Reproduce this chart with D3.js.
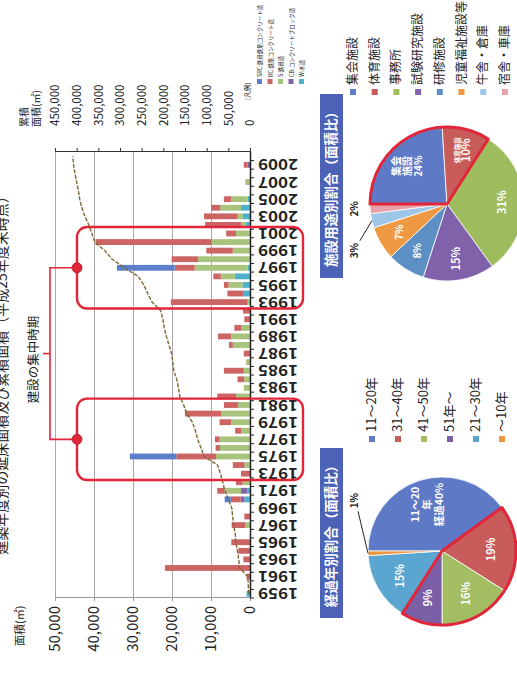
<!DOCTYPE html>
<html lang="ja">
<head>
<meta charset="utf-8">
<title>築年別延床面積</title>
<script src="https://cdn.jsdelivr.net/npm/d3@7/dist/d3.min.js"></script>
<style>
  body { margin: 0; background: #fff; }
  svg text { font-family: "Noto Sans CJK JP", "Noto Sans", sans-serif; fill: #222; }
</style>
</head>
<body>
<div id="chart"></div>
<script>
'use strict';

// ---- data ----
let years = [1959, 1960, 1961, 1962, 1963, 1964, 1965, 1966, 1967, 1968,
    1969, 1970, 1971, 1972, 1973, 1974, 1975, 1976, 1977, 1978,
    1979, 1980, 1981, 1982, 1983, 1984, 1985, 1986, 1987, 1988,
    1989, 1990, 1991, 1992, 1993, 1994, 1995, 1996, 1997, 1998,
    1999, 2000, 2001, 2002, 2003, 2004, 2005, 2006, 2007, 2008,
    2009, 2010];
let yearLabels = [1959, 1961, 1963, 1965, 1967, 1969, 1971, 1973, 1975, 1977,
    1979, 1981, 1983, 1985, 1987, 1989, 1991, 1993, 1995, 1997,
    1999, 2001, 2003, 2005, 2007, 2009];

// floor area by structure (m2)
let srcArea = [0, 0, 0, 0, 0, 0, 0, 0, 0, 0,
    0, 1600, 0, 0, 0, 0, 11900, 0, 0, 0,
    0, 0, 0, 0, 0, 0, 0, 0, 0, 0,
    0, 0, 0, 0, 0, 0, 0, 0, 14800, 0,
    0, 0, 0, 0, 0, 0, 0, 0, 0, 0,
    0, 0];
let rcArea = [0, 0, 900, 21800, 1700, 3000, 4800, 0, 3500, 1450,
    0, 2500, 1900, 1700, 2300, 3000, 10200, 1100, 1200, 1500,
    3000, 9300, 3600, 4800, 0, 1700, 5100, 0, 1600, 1000,
    3400, 1700, 1450, 1800, 19700, 4200, 1200, 1900, 5100, 6800,
    6800, 29700, 2500, 9200, 8600, 2400, 1900, 0, 0, 0,
    1000, 0];
let sArea = [0, 0, 0, 0, 0, 0, 0, 0, 1200, 0,
    0, 0, 4200, 1900, 0, 1400, 8700, 7700, 7800, 2300,
    4800, 7400, 3100, 3600, 1600, 1500, 1600, 1000, 0, 4400,
    4800, 2300, 0, 0, 600, 0, 3600, 3600, 13600, 13300,
    4400, 9900, 3600, 1300, 1300, 5300, 4200, 0, 1200, 0,
    0, 0];
let cbArea = [0, 0, 0, 0, 0, 0, 0, 0, 0, 0,
    0, 1000, 1500, 0, 0, 0, 0, 0, 0, 0,
    0, 0, 0, 0, 0, 0, 0, 0, 0, 0,
    0, 0, 0, 0, 0, 0, 0, 0, 0, 0,
    0, 0, 0, 0, 0, 0, 0, 0, 0, 0,
    600, 0];
let wArea = [900, 0, 0, 0, 0, 0, 0, 0, 0, 0,
    0, 1400, 800, 0, 0, 0, 0, 0, 0, 0,
    0, 0, 0, 0, 0, 0, 0, 0, 0, 0,
    0, 0, 0, 0, 0, 1600, 1900, 3900, 600, 0,
    0, 0, 0, 1000, 1900, 2300, 600, 0, 0, 0,
    0, 0];
// cumulative floor area (m2), right axis
let cumArea = [3000, 4000, 5000, 24000, 26000, 29000, 33000, 34000, 38000, 40000,
    42000, 50000, 58000, 63000, 68000, 75000, 106000, 113000, 121000, 126000,
    133000, 146000, 153000, 162000, 165000, 169000, 176000, 178000, 181000, 187000,
    193000, 198000, 201000, 206000, 226000, 236000, 245000, 258000, 290000, 318000,
    335000, 358000, 365000, 372000, 381000, 388000, 393000, 396000, 400000, 404000,
    407000, 409000];

let areaTicks = [0, 10000, 20000, 30000, 40000, 50000];
let cumTicks = [0, 50000, 100000, 150000, 200000, 250000, 300000, 350000, 400000, 450000];

let structureKeys = ['w', 'cb', 's', 'rc', 'src']; // stacked from the axis outwards
let structureNames = ['SRC:鉄骨鉄筋コンクリート造', 'RC:鉄筋コンクリート造', 'S:鉄骨造',
    'CB:コンクリートブロック造', 'W:木造'];
let peakPeriods = [[1973, 1981], [1993, 2001]];

let useNames = ['集会施設', '体育施設', '事務所', '試験研究施設', '研修施設',
    '児童福祉施設等', '牛舎・倉庫', '宿舎・車庫'];
let useShares = [24, 10, 31, 15, 8, 7, 3, 2];
let ageNames = ['11〜20年', '31〜40年', '41〜50年', '51年〜', '21〜30年', '〜10年'];
let ageShares = [40, 19, 16, 9, 15, 1];

// ---- styles ----
let structureColor = {src: '#5c7fcb', rc: '#cc6463', s: '#a8c37b', cb: '#8064a6', w: '#4db1cb'};
let structureOrder = ['src', 'rc', 's', 'cb', 'w'];
let useColors = ['#5e79c6', '#c75c5a', '#9fbc5f', '#7f62a9', '#5c8fc4', '#ef9942', '#9ec6e8', '#e7a1a9'];
let ageColors = ['#5e79c6', '#c75c5a', '#a3bd63', '#7b5fa6', '#5aa6d0', '#ef9540'];
let red = '#e2263a';

let width = 517, height = 690;

let svg = d3.select('#chart').append('svg')
    .attr('width', width)
    .attr('height', height);
svg.append('rect').attr('width', width).attr('height', height).attr('fill', '#fff');

// the page lies on its side: draw it upright on a 690 x 517 sheet and turn it
let page = svg.append('g')
    .attr('transform', 'translate(0,' + height + ') rotate(-90)');

let plot = {left: 92, right: 538, top: 55, bottom: 250};

let x = d3.scaleBand().domain(years).range([plot.left, plot.right])
    .paddingInner(0.32).paddingOuter(0.16);
let y = d3.scaleLinear().domain([0, 50000]).range([plot.bottom, plot.top]);
let y2 = d3.scaleLinear().domain([0, 450000]).range([plot.bottom, plot.top]);
let bw = x.bandwidth();

// title, cut by the edge of the scan
page.append('text')
    .attr('x', 318).attr('y', 7)
    .attr('text-anchor', 'middle')
    .attr('font-size', 14)
    .text('建築年度別の延床面積及び累積面積（平成25年度末時点）');

// grid
page.append('g')
    .attr('transform', 'translate(' + plot.left + ',0)')
    .call(d3.axisLeft(y).tickValues(areaTicks).tickSize(-(plot.right - plot.left)).tickFormat(''))
    .call(g => g.select('.domain').remove())
    .selectAll('line').attr('stroke', '#a9a9a9');

// left axis
page.append('g')
    .attr('transform', 'translate(' + plot.left + ',0)')
    .call(d3.axisLeft(y).tickValues(areaTicks).tickFormat(d3.format(',')).tickSize(3).tickSizeOuter(0).tickPadding(5))
    .call(g => g.select('.domain').attr('stroke', '#999'))
    .call(g => g.selectAll('.tick line').attr('stroke', '#999'))
    .call(g => g.selectAll('text').attr('font-size', 15).attr('fill', '#222'));

page.append('text')
    .attr('x', 44).attr('y', 24)
    .attr('font-size', 11)
    .text('面積(㎡)');

// right axis
page.append('g')
    .attr('transform', 'translate(' + plot.right + ',0)')
    .call(d3.axisRight(y2).tickValues(cumTicks).tickFormat(d3.format(',')).tickSize(4).tickSizeOuter(0).tickPadding(22))
    .call(g => g.select('.domain').attr('stroke', '#333'))
    .call(g => g.selectAll('.tick line').attr('stroke', '#333'))
    .call(g => g.selectAll('text').attr('font-size', 11.5).attr('fill', '#222'));

page.append('text')
    .attr('x', 563).attr('y', 28)
    .attr('font-size', 10)
    .text('累積');
page.append('text')
    .attr('x', 563).attr('y', 40)
    .attr('font-size', 10)
    .text('面積(㎡)');

// stacked bars
let rows = years.map(function(yr, i) {
    return {year: yr, src: srcArea[i], rc: rcArea[i], s: sArea[i], cb: cbArea[i], w: wArea[i]};
});
let series = d3.stack().keys(structureKeys)(rows);

page.append('g')
    .selectAll('g')
    .data(series)
    .join('g')
    .attr('fill', d => structureColor[d.key])
    .selectAll('rect')
    .data(d => d.filter(p => p[1] > p[0]))
    .join('rect')
    .attr('x', d => x(d.data.year))
    .attr('width', bw)
    .attr('y', d => y(d[1]))
    .attr('height', d => y(d[0]) - y(d[1]));

// cumulative line
let cumLine = d3.line()
    .x((d, i) => x(years[i]) + bw / 2)
    .y(d => y2(d));

page.append('path')
    .datum(cumArea)
    .attr('d', cumLine)
    .attr('fill', 'none')
    .attr('stroke', '#7e6836')
    .attr('stroke-width', 1.4)
    .attr('stroke-dasharray', '4,1.5');

// category axis
let xAxis = page.append('g')
    .attr('transform', 'translate(0,' + plot.bottom + ')')
    .call(d3.axisBottom(x).tickValues(yearLabels).tickSize(0).tickSizeOuter(0));
xAxis.select('.domain').attr('stroke', '#222').attr('stroke-width', 1.5);
xAxis.selectAll('text')
    .attr('transform', 'rotate(-90)')
    .attr('text-anchor', 'end')
    .attr('x', -8)
    .attr('y', 0)
    .attr('dy', '0.36em')
    .attr('font-size', 15)
    .attr('font-weight', 'bold')
    .attr('textLength', 40)
    .attr('lengthAdjust', 'spacingAndGlyphs')
    .attr('fill', '#222');

// ticks between categories
page.append('g')
    .selectAll('line')
    .data(years)
    .join('line')
    .attr('x1', d => x(d) - (x.step() - bw) / 2)
    .attr('x2', d => x(d) - (x.step() - bw) / 2)
    .attr('y1', plot.bottom)
    .attr('y2', plot.bottom + 4)
    .attr('stroke', '#222');

// legend of the bar chart
let barLegend = page.append('g');
barLegend.append('text')
    .attr('x', 590).attr('y', 250)
    .attr('font-size', 6.5)
    .text('[凡例]');
let legendItems = barLegend.selectAll('g.item')
    .data(structureOrder)
    .join('g')
    .attr('class', 'item')
    .attr('transform', (d, i) => 'translate(606,' + (260 + i * 10.5) + ')');
legendItems.append('rect')
    .attr('x', 0).attr('y', -3)
    .attr('width', 5).attr('height', 5)
    .attr('fill', d => structureColor[d]);
legendItems.append('text')
    .attr('x', 7).attr('y', 2)
    .attr('font-size', 5.5)
    .text((d, i) => structureNames[i]);

// periods of intensive construction
let periodBox = peakPeriods.map(function(p) {
    let u0 = x(p[0]) + bw / 2 - 0.75 * x.step();
    let u1 = x(p[1]) + bw / 2 + 0.75 * x.step();
    return {u0: u0, u1: u1, mid: (u0 + u1) / 2};
});

page.append('g')
    .selectAll('rect')
    .data(periodBox)
    .join('rect')
    .attr('x', d => d.u0)
    .attr('width', d => d.u1 - d.u0)
    .attr('y', 77)
    .attr('height', 226)
    .attr('rx', 10)
    .attr('fill', 'none')
    .attr('stroke', red)
    .attr('stroke-width', 2.4);

let bracket = page.append('g').attr('stroke', red).attr('stroke-width', 1.6).attr('fill', 'none');
bracket.append('path')
    .attr('d', 'M' + periodBox[0].mid + ',76V50H' + periodBox[1].mid + 'V76');
let bracketMid = (periodBox[0].mid + periodBox[1].mid) / 2;
bracket.append('line')
    .attr('x1', bracketMid).attr('x2', bracketMid)
    .attr('y1', 50).attr('y2', 43);
page.append('g')
    .selectAll('circle')
    .data(periodBox)
    .join('circle')
    .attr('cx', d => d.mid)
    .attr('cy', 77)
    .attr('r', 5)
    .attr('fill', red)
    .attr('stroke', '#a81424')
    .attr('stroke-width', 0.8);
page.append('text')
    .attr('x', bracketMid - 6).attr('y', 38)
    .attr('text-anchor', 'middle')
    .attr('font-size', 12.5)
    .text('建設の集中時期');

/**
 * Draw one pie with its title box and legend
 */
function drawPie(cfg) {
    let g = page.append('g')
        .attr('transform', 'translate(' + cfg.cx + ',' + cfg.cy + ')');

    let arcs = d3.pie().sort(null).value(d => d)(cfg.shares);
    let arc = d3.arc().innerRadius(0).outerRadius(cfg.r);

    g.selectAll('path.slice')
        .data(arcs)
        .join('path')
        .attr('class', 'slice')
        .attr('d', arc)
        .attr('fill', (d, i) => cfg.colors[i])
        .attr('stroke', '#fff')
        .attr('stroke-width', 0.8);

    // red outline round the highlighted slices
    g.append('path')
        .attr('d', arc({startAngle: arcs[cfg.highlight[0]].startAngle, endAngle: arcs[cfg.highlight[1]].endAngle}))
        .attr('fill', 'none')
        .attr('stroke', red)
        .attr('stroke-width', 3)
        .attr('stroke-linejoin', 'round');

    // labels in the slices
    let labelArc = d3.arc().innerRadius(cfg.r * cfg.labelAt).outerRadius(cfg.r * cfg.labelAt);
    cfg.labels.forEach(function(lab, i) {
        if (!lab) {
            return;
        }
        let c = labelArc.centroid(arcs[i]);
        let t = g.append('text')
            .attr('text-anchor', 'middle')
            .attr('font-weight', 'bold')
            .style('fill', '#fff');
        lab.lines.forEach(function(ln, j) {
            t.append('tspan')
                .attr('x', c[0])
                .attr('y', c[1] + (j - (lab.lines.length - 1) / 2) * lab.lh + 4)
                .attr('font-size', lab.sizes[j])
                .text(ln);
        });
    });

    // small slices labelled outside with a leader
    cfg.outside.forEach(function(o) {
        let a = arcs[o.index];
        let mid = (a.startAngle + a.endAngle) / 2;
        let p0 = [Math.sin(mid) * cfg.r, -Math.cos(mid) * cfg.r];
        let p1 = [p0[0] + o.dx, p0[1] + o.dy];
        if (o.leader) {
            g.append('path')
                .attr('d', 'M' + p0 + 'L' + p1)
                .attr('fill', 'none')
                .attr('stroke', '#222')
                .attr('stroke-width', 1);
        }
        g.append('text')
            .attr('x', p1[0] + o.tx)
            .attr('y', p1[1] + o.ty)
            .attr('text-anchor', o.anchor)
            .attr('font-size', 10)
            .attr('font-weight', 'bold')
            .text(cfg.shares[o.index] + '%');
    });

    // title box
    page.append('rect')
        .attr('x', cfg.cx + 18 - cfg.titleW / 2)
        .attr('y', 320)
        .attr('width', cfg.titleW)
        .attr('height', 23)
        .attr('fill', '#4c62b7');
    page.append('text')
        .attr('x', cfg.cx + 18)
        .attr('y', 336)
        .attr('text-anchor', 'middle')
        .attr('font-size', 13.5)
        .attr('font-weight', 'bold')
        .style('fill', '#fff')
        .text(cfg.title);

    // legend
    let lg = page.append('g')
        .selectAll('g')
        .data(cfg.names)
        .join('g')
        .attr('transform', (d, i) => 'translate(' + cfg.legendU + ',' + (cfg.legendV + i * cfg.legendStep) + ')');
    lg.append('rect')
        .attr('x', -3).attr('y', -3)
        .attr('width', 6).attr('height', 6)
        .attr('fill', (d, i) => cfg.colors[i]);
    lg.append('text')
        .attr('x', 7).attr('y', 4)
        .attr('font-size', cfg.legendSize)
        .text(d => d);
}

drawPie({
    cx: 486, cy: 447, r: 77,
    shares: useShares,
    names: useNames,
    colors: useColors,
    highlight: [0, 1],
    labelAt: 0.72,
    labels: [
        {lines: ['集会', '施設', '24%'], sizes: [10, 10, 10], lh: 11},
        {lines: ['体育施設', '10%'], sizes: [6.5, 11], lh: 10},
        {lines: ['31%'], sizes: [11], lh: 11},
        {lines: ['15%'], sizes: [11], lh: 11},
        {lines: ['8%'], sizes: [10], lh: 11},
        {lines: ['7%'], sizes: [10], lh: 11},
        null,
        null
    ],
    outside: [
        {index: 6, dx: -20, dy: -12, tx: -2, ty: -2, anchor: 'end', leader: true},
        {index: 7, dx: 0, dy: -12, tx: 0, ty: 0, anchor: 'middle', leader: false}
    ],
    title: '施設用途別割合（面積比）',
    titleW: 184,
    legendU: 598, legendV: 353, legendStep: 21.7, legendSize: 12
});

drawPie({
    cx: 139, cy: 442, r: 74,
    shares: ageShares,
    names: ageNames,
    colors: ageColors,
    highlight: [1, 3],
    labelAt: 0.66,
    labels: [
        {lines: ['11〜20', '年', '経過40%'], sizes: [10.5, 10.5, 10.5], lh: 12},
        {lines: ['19%'], sizes: [11], lh: 11},
        {lines: ['16%'], sizes: [11], lh: 11},
        {lines: ['9%'], sizes: [11], lh: 11},
        {lines: ['15%'], sizes: [11], lh: 11},
        null
    ],
    outside: [
        {index: 5, dx: 42, dy: -10, tx: 3, ty: 0, anchor: 'start', leader: true}
    ],
    title: '経過年別割合（面積比）',
    titleW: 170,
    legendU: 251, legendV: 372, legendStep: 26, legendSize: 13
});
</script>
</body>
</html>
